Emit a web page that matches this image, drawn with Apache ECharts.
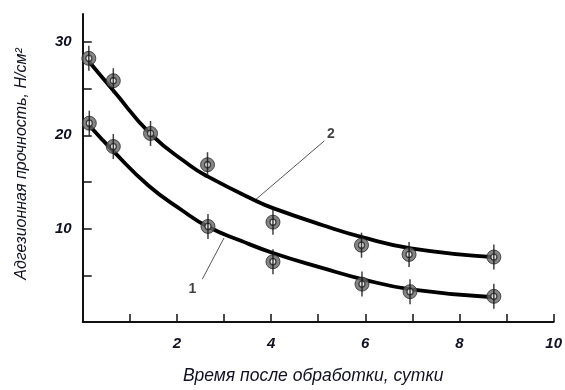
<!DOCTYPE html>
<html>
<head>
<meta charset="utf-8">
<script src="https://cdn.jsdelivr.net/npm/echarts@6/dist/echarts.min.js"></script>
<style>
html,body{margin:0;padding:0;background:#fff;}
#chart{width:565px;height:390px;}
</style>
</head>
<body>
<div id="chart"></div>
<script>
// ---- data ----
const series2X = [0.13, 0.65, 1.44, 2.65, 4.04, 5.92, 6.93, 8.73];
const series2Y = [28.25, 25.85, 20.2, 16.85, 10.7, 8.23, 7.24, 6.96];
const series1X = [0.14, 0.65, 2.66, 4.04, 5.93, 6.95, 8.73];
const series1Y = [21.3, 18.8, 10.24, 6.46, 4.06, 3.25, 2.75];

const curve2X = [0.15, 0.65, 1.45, 2.27, 2.65, 3.67, 4.04, 5.08, 5.93, 6.97, 8.73];
const curve2Y = [27.8, 24.8, 20.1, 16.8, 15.6, 13.0, 12.2, 10.4, 9.1, 7.9, 6.95];
const curve1X = [0.15, 0.65, 1.4, 2.1, 2.66, 3.36, 4.04, 5.08, 5.93, 6.97, 8.73];
const curve1Y = [21.0, 18.3, 14.6, 12.0, 10.2, 8.7, 7.4, 5.8, 4.6, 3.5, 2.65];

const xTicks = [1, 2, 3, 4, 5, 6, 7, 8, 9, 10];
const xLabels = [2, 4, 6, 8, 10];
const yTicks = [5, 10, 15, 20, 25, 30];
const yLabels = [10, 20, 30];

const curveNames = ['1', '2'];
const leader1 = [[2.54, 4.59], [3.0, 9.0]];
const leader2 = [[5.13, 19.4], [3.66, 13.06]];
const label1Pos = [2.33, 3.55];
const label2Pos = [5.27, 20.1];

const xTitle = 'Время после обработки, сутки';
const yTitle = 'Адгезионная прочность, Н/см²';

// ---- build ----
const zip = (xs, ys) => xs.map((x, i) => [x, ys[i]]);
const pts = zip(series2X, series2Y).concat(zip(series1X, series1Y));

const font = '"Liberation Sans", Arial, sans-serif';
const chart = echarts.init(document.getElementById('chart'), null, {renderer: 'canvas'});

function curve(data) {
  return {
    type: 'line', data: data, smooth: 0.5, symbol: 'none', silent: true,
    lineStyle: {color: '#000', width: 3.8}, z: 2
  };
}
function leader(data) {
  return {
    type: 'line', data: data, symbol: 'none', silent: true,
    lineStyle: {color: '#555', width: 1}, z: 1
  };
}
function txt(pos, s) {
  return {
    type: 'scatter', data: [pos], symbolSize: 0, silent: true, z: 6,
    label: {show: true, position: 'inside', formatter: s, color: '#111',
      fontFamily: font, fontSize: 14, fontWeight: 'bold'}
  };
}

chart.setOption({
  animation: false,
  backgroundColor: '#fff',
  grid: {left: 82.7, right: 8.3, top: 14, bottom: 65, containLabel: false},
  xAxis: {
    type: 'value', min: 0, max: 10, interval: 1,
    name: xTitle, nameLocation: 'middle', nameGap: 45,
    nameTextStyle: {fontFamily: font, fontStyle: 'italic', fontSize: 17.5, color: '#111122', padding: [0, 10, 0, 0]},
    axisLine: {show: true, lineStyle: {color: '#111', width: 2}},
    axisTick: {show: true, inside: true, length: 8, customValues: xTicks, lineStyle: {color: '#111', width: 1.5}},
    axisLabel: {customValues: xLabels, margin: 14, fontFamily: font, fontStyle: 'italic', fontWeight: 'bold',
      fontSize: 15, color: '#111122'},
    splitLine: {show: false}
  },
  yAxis: {
    type: 'value', min: 0, max: 33, interval: 5,
    name: yTitle, nameLocation: 'middle', nameGap: 53,
    nameTextStyle: {fontFamily: font, fontStyle: 'italic', fontSize: 16, color: '#111122', padding: [0, 0, 0, 8]},
    axisLine: {show: true, lineStyle: {color: '#111', width: 2}},
    axisTick: {show: true, inside: true, length: 9, customValues: yTicks, lineStyle: {color: '#111', width: 1.5}},
    axisLabel: {customValues: yLabels, margin: 11, fontFamily: font, fontStyle: 'italic', fontWeight: 'bold',
      fontSize: 15, color: '#111122'},
    splitLine: {show: false}
  },
  series: [
    curve(zip(curve1X, curve1Y)),
    curve(zip(curve2X, curve2Y)),
    leader(leader1),
    leader(leader2),
    {type: 'scatter', data: pts, symbol: 'circle', symbolSize: 14, silent: true, z: 3,
      itemStyle: {color: '#666', borderColor: '#2a2a2a', borderWidth: 1}},
    {type: 'scatter', data: pts, symbol: 'circle', symbolSize: 6, silent: true, z: 4,
      itemStyle: {color: '#fff', borderColor: '#222', borderWidth: 1.3}},
    {type: 'scatter', data: pts, symbol: 'rect', symbolSize: [1.5, 25], silent: true, z: 5,
      itemStyle: {color: '#111'}},
    txt(label1Pos, curveNames[0]),
    txt(label2Pos, curveNames[1])
  ]
});
</script>
</body>
</html>
